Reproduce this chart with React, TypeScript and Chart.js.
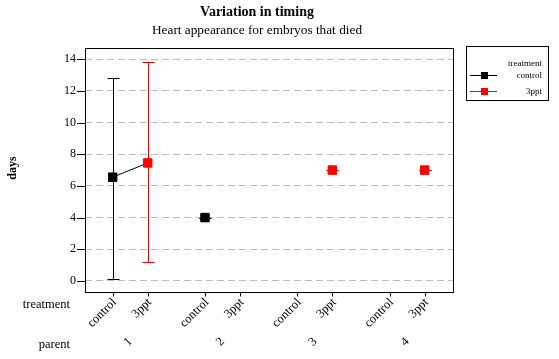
import React, { useEffect, useRef } from "react";
import { Chart, registerables } from "chart.js";

Chart.register(...registerables);

// ---- data ----
const parents = ["1", "2", "3", "4"];
const treatments = ["control", "3ppt"];
const controlMean: (number | null)[] = [6.55, 4.0, null, null];
const controlLow: (number | null)[] = [0.15, 4.0, null, null];
const controlHigh: (number | null)[] = [12.82, 4.0, null, null];
const pptMean: (number | null)[] = [7.45, null, 7.0, 7.0];
const pptLow: (number | null)[] = [1.2, null, 7.0, 7.0];
const pptHigh: (number | null)[] = [13.85, null, 7.0, 7.0];
const yTicks = [0, 2, 4, 6, 8, 10, 12, 14];

const titleText = "Variation in timing";
const subtitleText = "Heart appearance for embryos that died";
const yTitle = "days";

// ---- layout constants ----
const W = 559;
const H = 359;
const GROUP_STEP = 2.635;
const FONT = "'Liberation Serif', 'Times New Roman', serif";
const RED = "#ff0000";
const RED_BAR = "#e00000";

const xPos = (g: number, t: number) => g * GROUP_STEP + t;

const series = [
  { name: treatments[0], mean: controlMean, low: controlLow, high: controlHigh, color: "#000000", bar: "#000000" },
  { name: treatments[1], mean: pptMean, low: pptLow, high: pptHigh, color: RED, bar: RED_BAR },
];

const crisp = (v: number) => Math.round(v) + 0.5;

const overlay = {
  id: "overlay",
  beforeDatasetsDraw(chart: any) {
    const { ctx, scales } = chart;
    const x = scales.x, y = scales.y;
    ctx.save();
    ctx.lineWidth = 1;
    series.forEach((s, t) => {
      ctx.strokeStyle = s.bar;
      parents.forEach((_, g) => {
        if (s.mean[g] == null) return;
        const px = crisp(x.getPixelForValue(xPos(g, t)));
        const y1 = Math.round(y.getPixelForValue(s.low[g] as number)) + 0.5;
        const y2 = Math.round(y.getPixelForValue(s.high[g] as number)) + 0.5;
        ctx.beginPath();
        ctx.moveTo(px, y1);
        ctx.lineTo(px, y2);
        ctx.moveTo(px - 6, y1);
        ctx.lineTo(px + 6, y1);
        ctx.moveTo(px - 6, y2);
        ctx.lineTo(px + 6, y2);
        ctx.stroke();
      });
    });
    ctx.restore();
  },
  afterDraw(chart: any) {
    const { ctx, scales, chartArea } = chart;
    const x = scales.x, y = scales.y;
    ctx.save();
    // frame
    ctx.strokeStyle = "#000";
    ctx.lineWidth = 1;
    const l = crisp(chartArea.left), r = crisp(chartArea.right), tp = crisp(chartArea.top), b = crisp(chartArea.bottom);
    ctx.strokeRect(l, tp, r - l, b - tp);

    // titles
    ctx.fillStyle = "#000";
    ctx.textAlign = "center";
    ctx.textBaseline = "middle";
    ctx.font = `bold 14px ${FONT}`;
    ctx.fillText(titleText, 257, 12);
    ctx.font = `13.3px ${FONT}`;
    ctx.fillText(subtitleText, 257, 31);

    // y title
    ctx.save();
    ctx.translate(13, 168);
    ctx.rotate(-Math.PI / 2);
    ctx.font = `bold 12px ${FONT}`;
    ctx.fillText(yTitle, 0, 0);
    ctx.restore();

    // y ticks
    ctx.font = `12px ${FONT}`;
    ctx.textAlign = "right";
    ctx.beginPath();
    yTicks.forEach((v) => {
      const py = y.getPixelForValue(v);
      ctx.fillText(String(v), 76, py);
      ctx.moveTo(chartArea.left - 8, crisp(py));
      ctx.lineTo(chartArea.left, crisp(py));
    });
    ctx.stroke();

    // x ticks & labels
    ctx.beginPath();
    parents.forEach((p, g) => {
      treatments.forEach((tr, t) => {
        const px = crisp(x.getPixelForValue(xPos(g, t)));
        ctx.moveTo(px, b);
        ctx.lineTo(px, b + 4);
      });
    });
    ctx.stroke();
    ctx.font = `12.5px ${FONT}`;
    parents.forEach((p, g) => {
      treatments.forEach((tr, t) => {
        const px = x.getPixelForValue(xPos(g, t));
        ctx.save();
        ctx.translate(px + 2, b + 8);
        ctx.rotate(-Math.PI / 4);
        ctx.textAlign = "right";
        ctx.textBaseline = "middle";
        ctx.fillText(tr, 0, 0);
        ctx.restore();
      });
      const mid = (x.getPixelForValue(xPos(g, 0)) + x.getPixelForValue(xPos(g, 1))) / 2;
      ctx.save();
      ctx.translate(mid - 2, 342);
      ctx.rotate(-Math.PI / 4);
      ctx.textAlign = "center";
      ctx.textBaseline = "middle";
      ctx.fillText(p, 0, 0);
      ctx.restore();
    });
    ctx.textAlign = "right";
    ctx.fillText("treatment", 70, 305);
    ctx.fillText("parent", 70, 345);

    // legend
    ctx.strokeRect(466.5, 46.5, 82, 54);
    ctx.font = `9px ${FONT}`;
    ctx.textAlign = "right";
    ctx.fillText("treatment", 542, 64);
    const ly = [75, 91];
    series.forEach((s, i) => {
      const yy = ly[i] + 0.5;
      ctx.strokeStyle = s.color;
      ctx.beginPath();
      ctx.moveTo(470, yy);
      ctx.lineTo(497, yy);
      ctx.stroke();
      ctx.fillStyle = s.color;
      ctx.fillRect(481, ly[i] - 3, 7, 7);
      ctx.fillStyle = "#000";
      ctx.fillText(s.name, 542, ly[i] + 1);
    });
    ctx.restore();
  },
};

export default function App() {
  const ref = useRef<HTMLCanvasElement | null>(null);
  useEffect(() => {
    if (!ref.current) return;
    const pointSets = series.map((s, t) => ({
      type: "scatter" as const,
      label: s.name,
      data: parents
        .map((_, g) => (s.mean[g] == null ? null : { x: xPos(g, t), y: s.mean[g] as number }))
        .filter((d) => d !== null),
      pointStyle: "rect",
      pointRadius: 6,
      pointBorderWidth: 1,
      backgroundColor: s.color,
      borderColor: s.color,
      showLine: false,
      order: 0,
    }));
    const linkSets = parents
      .map((_, g) => {
        const pts = series
          .map((s, t) => (s.mean[g] == null ? null : { x: xPos(g, t), y: s.mean[g] as number }))
          .filter((d) => d !== null);
        if (pts.length < 2) return null;
        return {
          type: "line" as const,
          label: "link" + g,
          data: pts,
          borderColor: "#000",
          borderWidth: 1,
          pointRadius: 0,
          showLine: true,
          fill: false,
          order: 1,
        };
      })
      .filter((d) => d !== null);

    const chart = new Chart(ref.current, {
      type: "scatter",
      data: { datasets: [...(pointSets as any), ...(linkSets as any)] },
      options: {
        responsive: false,
        animation: false,
        devicePixelRatio: 1,
        layout: { padding: { left: 85, right: 106, top: 48, bottom: 67 } },
        plugins: { legend: { display: false }, tooltip: { enabled: false }, title: { display: false } },
        scales: {
          x: {
            type: "linear",
            min: -0.79,
            max: 9.714,
            grid: { display: false, drawTicks: false },
            border: { display: false },
            ticks: { display: false },
          },
          y: {
            type: "linear",
            min: -0.7,
            max: 14.71,
            afterBuildTicks: (scale: any) => {
              scale.ticks = yTicks.map((v) => ({ value: v }));
            },
            grid: { color: "#bdbdbd", lineWidth: 1, drawTicks: false },
            border: { display: false, dash: [7, 4] },
            ticks: { display: false },
          },
        },
      },
      plugins: [overlay],
    });
    return () => chart.destroy();
  }, []);
  return (
    <div style={{ position: "absolute", left: 0, top: 0, width: W, height: H, background: "#fff" }}>
      <canvas ref={ref} width={W} height={H} style={{ display: "block" }} />
    </div>
  );
}
